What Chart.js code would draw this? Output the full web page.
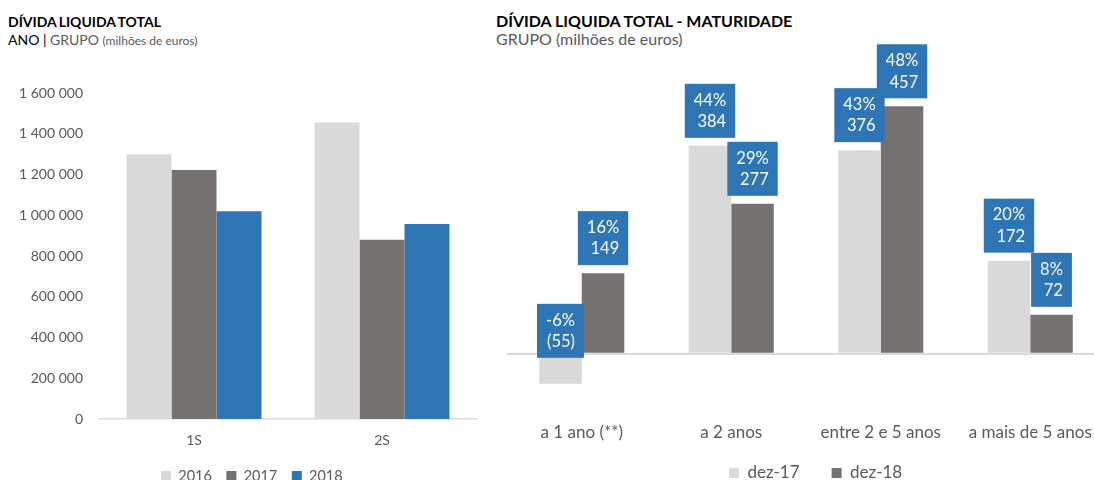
<!DOCTYPE html>
<html>
<head>
<meta charset="utf-8">
<script src="https://cdn.jsdelivr.net/npm/chart.js@4.4.1/dist/chart.umd.min.js"></script>
<style>
  html, body { margin: 0; padding: 0; background: #fff; }
  body { width: 1094px; height: 480px; overflow: hidden; position: relative; font-family: Lato, 'Open Sans', sans-serif; }
  canvas { position: absolute; top: 0; }
  #c1 { left: 0; }
  #c2 { left: 490px; }
  .t { position: absolute; white-space: nowrap; line-height: 1.2; }
  #t1 { left: 8px; top: 14px; font-size: 14px; font-weight: 700; color: #000; word-spacing: -1px; }
  #s1 { left: 8px; top: 32px; font-size: 14px; color: #595959; }
  #s1 .dark { color: #000; }
  #s1 .small { font-size: 12px; }
  #t2 { left: 496px; top: 11px; font-size: 16px; font-weight: 700; color: #000; }
  #s2 { left: 496px; top: 29px; font-size: 16px; color: #595959; }
</style>
</head>
<body>
<div class="t" id="t1">DÍVIDA LIQUIDA TOTAL</div>
<div class="t" id="s1"><span class="dark">ANO | </span>GRUPO <span class="small">(milhões de euros)</span></div>
<div class="t" id="t2">DÍVIDA LIQUIDA TOTAL - MATURIDADE</div>
<div class="t" id="s2">GRUPO (milhões de euros)</div>
<canvas id="c1" width="490" height="500"></canvas>
<canvas id="c2" width="620" height="500"></canvas>
<script>
// ---- Left chart data ----
const semesters = ['1S', '2S'];
const yearLabels = ['2016', '2017', '2018'];
const values2016 = [1300000, 1455000];
const values2017 = [1222000, 880000];
const values2018 = [1020000, 957000];
const leftTicks = [0, 200000, 400000, 600000, 800000, 1000000, 1200000, 1400000, 1600000];

// ---- Right chart data ----
const maturities = ['a 1 ano (**)', 'a 2 anos', 'entre 2 e 5 anos', 'a mais de 5 anos'];
const periodLabels = ['dez-17', 'dez-18'];
const valuesDez17 = [-55, 384, 376, 172];
const valuesDez18 = [149, 277, 457, 72];
const pctDez17 = ['-6%', '44%', '43%', '20%'];
const pctDez18 = ['16%', '29%', '48%', '8%'];

const FONT = "Lato, 'Open Sans', sans-serif";
const GREY_TEXT = '#595959';
const C_LIGHT = '#D9D9D9';
const C_DARK = '#767171';
const C_BLUE = '#2E75B6';

Chart.defaults.font.family = FONT;
Chart.defaults.color = GREY_TEXT;

function fmtSpace(v) {
  return String(v).replace(/\B(?=(\d{3})+(?!\d))/g, ' ');
}

function legendMover(startX, centerY) {
  return {
    id: 'legendMover',
    afterLayout(chart) {
      const lg = chart.legend;
      if (!lg) return;
      const pad = lg.options.labels.padding;
      const fs = lg.options.labels.font.size;
      const h = lg.bottom - lg.top;
      const w = lg.right - lg.left;
      lg.left = startX - pad;
      lg.right = lg.left + w;
      lg.top = centerY - pad - fs / 2;
      lg.bottom = lg.top + h;
    }
  };
}

// ---- Left chart ----
new Chart(document.getElementById('c1'), {
  type: 'bar',
  data: {
    labels: semesters,
    datasets: [
      { label: yearLabels[0], data: values2016, backgroundColor: C_LIGHT },
      { label: yearLabels[1], data: values2017, backgroundColor: C_DARK },
      { label: yearLabels[2], data: values2018, backgroundColor: C_BLUE }
    ]
  },
  options: {
    responsive: false,
    animation: false,
    layout: { padding: { top: 93, right: 14, left: 0, bottom: 0 } },
    datasets: { bar: { categoryPercentage: 0.718, barPercentage: 1, borderWidth: 0 } },
    plugins: {
      legend: {
        position: 'bottom',
        align: 'start',
        labels: { boxWidth: 10, boxHeight: 10, padding: 14.5, color: GREY_TEXT, font: { size: 14.5 } }
      },
      tooltip: { enabled: false }
    },
    scales: {
      x: {
        grid: { display: false, drawTicks: false },
        border: { display: true, color: C_LIGHT, width: 1.5 },
        ticks: { color: GREY_TEXT, font: { size: 14 }, padding: 13 },
        afterFit(s) { s.height = 42; }
      },
      y: {
        min: 0,
        max: 1600000,
        afterBuildTicks(s) { s.ticks = leftTicks.map(v => ({ value: v })); },
        grid: { display: false, drawTicks: false },
        border: { display: false },
        ticks: { color: GREY_TEXT, font: { size: 14 }, padding: 17, callback: v => fmtSpace(v) },
        afterFit(s) { s.width = 100; }
      }
    }
  },
  plugins: [legendMover(161, 476)]
});

// ---- Right chart ----
const boxPlugin = {
  id: 'valueBoxes',
  afterDatasetsDraw(chart) {
    const ctx = chart.ctx;
    const y0 = chart.scales.y.getPixelForValue(0);
    const pcts = [pctDez17, pctDez18];
    ctx.save();
    ctx.font = '16.5px ' + FONT;
    ctx.textAlign = 'right';
    ctx.textBaseline = 'middle';
    chart.data.datasets.forEach((ds, di) => {
      const meta = chart.getDatasetMeta(di);
      meta.data.forEach((el, i) => {
        const v = ds.data[i];
        const l1 = pcts[di][i];
        const l2 = v < 0 ? '(' + (-v) + ')' : String(v);
        const tw = Math.max(ctx.measureText(l1).width, ctx.measureText(l2).width);
        const w = tw + 18;
        const h = 54;
        const bottom = v < 0 ? y0 + 4 : el.y - 8;
        const top = bottom - h;
        const left = el.x - w / 2;
        ctx.fillStyle = C_BLUE;
        ctx.fillRect(left, top, w, h);
        ctx.fillStyle = '#FFFFFF';
        const cy = top + h / 2;
        ctx.fillText(l1, left + w - 9, cy - 10.5);
        ctx.fillText(l2, left + w - 9, cy + 11);
      });
    });
    ctx.restore();
  }
};

new Chart(document.getElementById('c2'), {
  type: 'bar',
  data: {
    labels: maturities,
    datasets: [
      { label: periodLabels[0], data: valuesDez17, backgroundColor: C_LIGHT },
      { label: periodLabels[1], data: valuesDez18, backgroundColor: C_DARK }
    ]
  },
  options: {
    responsive: false,
    animation: false,
    layout: { padding: { top: 83, right: 5, left: 17, bottom: 0 } },
    datasets: { bar: { categoryPercentage: 0.569, barPercentage: 1, borderWidth: 0 } },
    plugins: {
      legend: {
        position: 'bottom',
        align: 'start',
        labels: { boxWidth: 10, boxHeight: 10, padding: 32, color: GREY_TEXT, font: { size: 17 } }
      },
      tooltip: { enabled: false }
    },
    scales: {
      x: {
        grid: { display: false, drawTicks: false },
        border: { display: false },
        ticks: { color: GREY_TEXT, font: { size: 17 }, padding: 14, maxRotation: 0, autoSkip: false },
        afterFit(s) { s.height = 33; }
      },
      y: {
        min: -100,
        max: 500,
        ticks: { display: false, stepSize: 100 },
        grid: {
          drawTicks: false,
          color: ctx => (ctx.tick && ctx.tick.value === 0 ? C_LIGHT : 'rgba(0,0,0,0)'),
          lineWidth: 2
        },
        border: { display: false },
        afterFit(s) { s.width = 0; }
      }
    }
  },
  plugins: [boxPlugin, legendMover(729 - 490, 473)]
});
</script>
</body>
</html>
